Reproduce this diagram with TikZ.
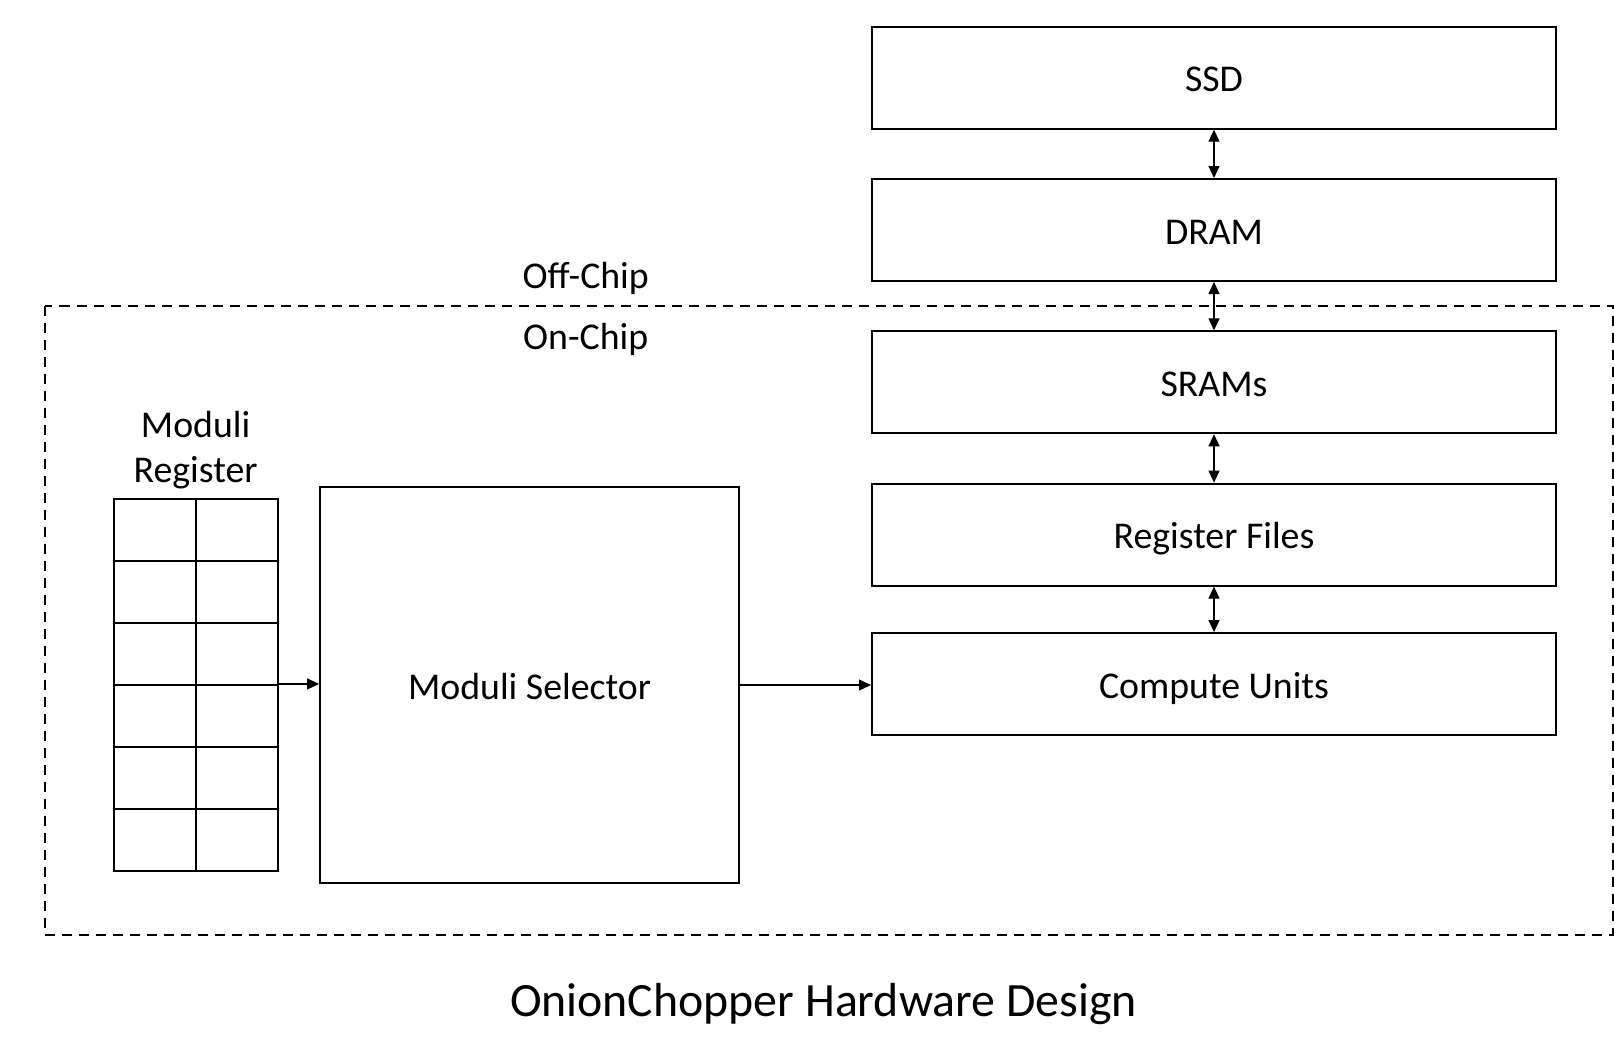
\documentclass[tikz,border=0pt]{standalone}
\usepackage{fontspec}
\setmainfont{Carlito}
\usetikzlibrary{arrows.meta,positioning}
\newcommand{\labelFont}{\fontsize{37.8}{45}\selectfont}
\newcommand{\titleFont}{\fontsize{47.8}{56}\selectfont}

\begin{document}
\begin{tikzpicture}[%%
  x=1pt,y=-1pt,%%
  boxStyle/.style={draw,line width=2pt,inner sep=0pt,minimum width=684pt,minimum height=102pt,font=\labelFont,text height=28pt,text depth=0pt},%%
  cellStyle/.style={draw,line width=2pt,inner sep=0pt,minimum width=81.8pt,minimum height=61.9pt},%%
  arrowStyle/.style={-{Triangle[length=12pt,width=11pt]},line width=1.2pt},%%
  twoWayStyle/.style={{Triangle[length=12pt,width=11pt]}-{Triangle[length=12pt,width=11pt]},line width=1.2pt},%%
  labelStyle/.style={font=\labelFont,inner sep=0pt},%%
  chipStyle/.style={dash pattern=on 10pt off 7pt,line width=2pt}%%
]
%%
\useasboundingbox (0,0) rectangle (1614,1041);
%%
%% Memory hierarchy, top to bottom.
\node[boxStyle] (ssd) at (1214,77.7) {SSD};
\node[boxStyle,below=48.3pt of ssd] (dram) {DRAM};
\node[boxStyle,below=48.3pt of dram] (srams) {SRAMs};
\node[boxStyle,below=48.3pt of srams] (regFiles) {Register Files};
\node[boxStyle,below=45.5pt of regFiles] (compute) {Compute Units};
%%
\draw[twoWayStyle] (ssd) -- (dram);
\draw[twoWayStyle] (dram) -- (srams);
\draw[twoWayStyle] (srams) -- (regFiles);
\draw[twoWayStyle] (regFiles) -- (compute);
%%
%% The on-chip region and its border labels.
\draw[chipStyle] (45.3,305.7) rectangle (1613,934.6);
\node[labelStyle] (offChip) at (585.7,278) {Off-Chip};
\node[labelStyle] (onChip) at (585.7,339.8) {On-Chip};
%%
%% Moduli register: two columns of six cells.
\foreach \r in {0,...,5}{
  \foreach \c in {0,1}{
    \node[cellStyle] (cell-\r-\c) at ({155.2+\c*81.8},{530.2+\r*61.9}) {};
  }
}
\node[labelStyle,align=center] (regLabel) at (195.6,450.5) {Moduli\\Register};
%%
\node[boxStyle,minimum width=419pt,minimum height=396pt] (selector) at (529.6,685) {Moduli Selector};
%%
\draw[arrowStyle] (cell-3-1.north east) -- (cell-3-1.north east -| selector.west);
\draw[arrowStyle] (selector.east) -- (selector.east -| compute.west);
%%
\node[font=\titleFont] (title) at (823.4,1004.5) {OnionChopper Hardware Design};
\end{tikzpicture}
\end{document}
